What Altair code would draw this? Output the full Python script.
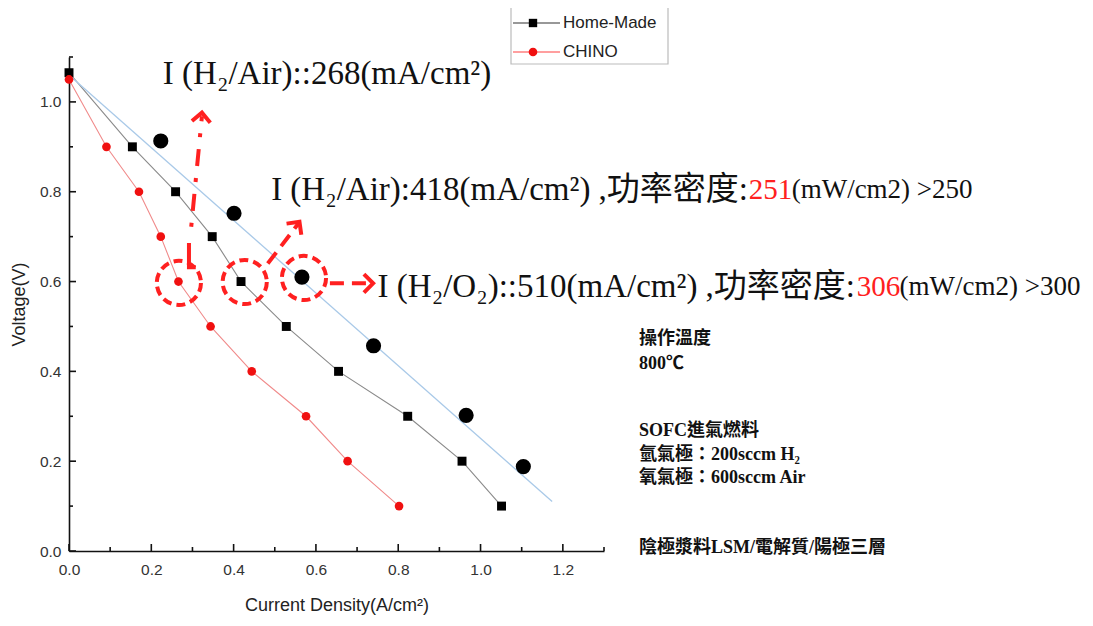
import altair as alt
import pandas as pd

# ---------------- data ----------------
hm_x = [0.0, 0.154, 0.259, 0.348, 0.418, 0.528, 0.655, 0.823, 0.955, 1.051]
hm_y = [1.065, 0.90, 0.80, 0.70, 0.60, 0.50, 0.40, 0.30, 0.20, 0.10]
ch_x = [0.0, 0.091, 0.170, 0.223, 0.266, 0.344, 0.444, 0.576, 0.677, 0.802]
ch_y = [1.05, 0.90, 0.80, 0.70, 0.60, 0.50, 0.40, 0.30, 0.20, 0.10]
o2_x = [0.223, 0.401, 0.566, 0.740, 0.965, 1.104]
o2_y = [0.913, 0.752, 0.610, 0.457, 0.302, 0.188]
fit_x = [0.0, 1.174]
fit_y = [1.06, 0.11]

circ_x = [0.267, 0.427, 0.571]
circ_y = [0.597, 0.599, 0.608]

x_major = [0.0, 0.2, 0.4, 0.6, 0.8, 1.0, 1.2]
x_minor = [0.1, 0.3, 0.5, 0.7, 0.9, 1.1, 1.3]
y_major = [0.0, 0.2, 0.4, 0.6, 0.8, 1.0]
y_minor = [0.1, 0.3, 0.5, 0.7, 0.9, 1.1]

W, H = 535, 494
XD, YD = [0, 1.3], [0, 1.1]
RED = "#ff2020"
SANS = "Liberation Sans"
SERIF = "Liberation Serif, Noto Sans CJK TC"
BSERIF = "Liberation Serif, Noto Sans CJK TC"

xs = alt.Scale(domain=XD, nice=False, zero=False)
ys = alt.Scale(domain=YD, nice=False, zero=False)

hm = pd.DataFrame({"x": hm_x, "y": hm_y})
ch = pd.DataFrame({"x": ch_x, "y": ch_y})
o2 = pd.DataFrame({"x": o2_x, "y": o2_y})
fit = pd.DataFrame({"x": fit_x, "y": fit_y})
circ = pd.DataFrame({"x": circ_x, "y": circ_y})

main_x = alt.Axis(orient="bottom", values=x_major, format=".1f", tickSize=0, domainColor="#111",
                  domainWidth=1.6, labelFont=SANS, labelFontSize=15.5, labelColor="#333",
                  labelPadding=11, labelFlush=False, labelOverlap=False, grid=False,
                  title="Current Density(A/cm²)",
                  titleFont=SANS, titleFontSize=18, titleFontWeight="normal", titleColor="#222",
                  titlePadding=19)
main_y = alt.Axis(orient="left", values=y_major, format=".1f", tickSize=0, domainColor="#111",
                  domainWidth=1.6, labelFont=SANS, labelFontSize=15.5, labelColor="#333",
                  labelPadding=8, labelFlush=False, labelOverlap=False, grid=False, title="Voltage(V)",
                  titleFont=SANS, titleFontSize=18, titleFontWeight="normal", titleColor="#222",
                  titlePadding=11)

X = alt.X("x:Q", scale=xs, axis=main_x)
Y = alt.Y("y:Q", scale=ys, axis=main_y)

# inward ticks
TK = dict(color="#111", strokeWidth=1.6)
tx_maj = alt.Chart(pd.DataFrame({"x": x_major})).mark_rule(**TK).encode(x=X, y=alt.value(H), y2=alt.value(H - 7))
tx_min = alt.Chart(pd.DataFrame({"x": x_minor})).mark_rule(**TK).encode(x=X, y=alt.value(H), y2=alt.value(H - 4))
ty_maj = alt.Chart(pd.DataFrame({"y": y_major})).mark_rule(**TK).encode(y=Y, x=alt.value(0), x2=alt.value(7))
ty_min = alt.Chart(pd.DataFrame({"y": y_minor})).mark_rule(**TK).encode(y=Y, x=alt.value(0), x2=alt.value(4))

l_hm = alt.Chart(hm).mark_line(color="#8a8a8a", strokeWidth=1.1).encode(x=X, y=Y)
l_ch = alt.Chart(ch).mark_line(color="#f08a8a", strokeWidth=1.1).encode(x=X, y=Y)
l_fit = alt.Chart(fit).mark_line(color="#a9c9e8", strokeWidth=1.3).encode(x=X, y=Y)
p_hm = alt.Chart(hm).mark_point(shape="square", filled=True, color="#000", size=80, opacity=1).encode(x=X, y=Y)
p_ch = alt.Chart(ch).mark_point(shape="circle", filled=True, color="#f01010", size=75, opacity=1).encode(x=X, y=Y)
p_o2 = alt.Chart(o2).mark_point(shape="circle", filled=True, color="#000", size=230, opacity=1).encode(x=X, y=Y)

p_circ = alt.Chart(circ).mark_point(shape="circle", filled=False, color=RED, size=1950,
                                     strokeWidth=4, strokeDash=[9, 5], opacity=1).encode(x=X, y=Y)

# arrow paths (data coordinates of annotation strokes)
seg = pd.DataFrame({"x": [0.2915, 0.2915, 0.308], "y": [0.686, 0.632, 0.632]})
a1 = pd.DataFrame({"x": [0.297, 0.323], "y": [0.722, 0.968]})
a2 = pd.DataFrame({"x": [0.483, 0.558], "y": [0.640, 0.730]})
a3 = pd.DataFrame({"x": [0.634, 0.735], "y": [0.596, 0.596]})
heads = pd.DataFrame({"x": [0.323, 0.560, 0.739], "y": [0.976, 0.733, 0.596], "a": [5, 37, 90]})

l_L = alt.Chart(seg).mark_line(color=RED, strokeWidth=4).encode(x=X, y=Y, order=alt.value(0))
l_a1 = alt.Chart(a1).mark_line(color=RED, strokeWidth=4, strokeDash=[4, 12, 17, 12]).encode(x=X, y=Y)
l_a2 = alt.Chart(a2).mark_line(color=RED, strokeWidth=4, strokeDash=[14, 8]).encode(x=X, y=Y)
l_a3 = alt.Chart(a3).mark_line(color=RED, strokeWidth=4, strokeDash=[14, 8]).encode(x=X, y=Y)
p_heads = alt.Chart(heads).mark_point(shape="M-1,1L0,0L1,1", filled=False, color=RED, size=340,
                                      strokeWidth=4, opacity=1).encode(
    x=X, y=Y, angle=alt.Angle("a:Q", scale=None))

# annotation text
t_black_left = pd.DataFrame({"x": [0.228], "y": [1.062], "t": ["I (H₂/Air)::268(mA/cm²)"]})
t_black_right = pd.DataFrame({
    "x": [1.650, 1.910], "y": [0.804, 0.587],
    "t": ["I (H₂/Air):418(mA/cm²) ,功率密度: ", "I (H₂/O₂)::510(mA/cm²) ,功率密度: "],
})
t_red = pd.DataFrame({"x": [1.652, 1.914], "y": [0.804, 0.587], "t": ["251", "306"]})
t_tail = pd.DataFrame({"x": [1.756, 2.018], "y": [0.804, 0.587], "t": ["(mW/cm2) >250", "(mW/cm2) >300"]})

def txt(df, color, align, font=SERIF, size=27, weight="normal"):
    return alt.Chart(df).mark_text(align=align, baseline="middle", font=font, fontSize=size,
                                   color=color, fontWeight=weight).encode(x=X, y=Y, text="t:N")

tx1 = txt(t_black_left, "#111", "left", size=33)
tx2 = txt(t_black_right, "#111", "right", size=33)
tx3 = txt(t_red, RED, "left", size=29)
tx4 = txt(t_tail, "#111", "left", size=27)

info_lines = ["操作溫度", "800℃", "SOFC進氣燃料", "氫氣極：200sccm H₂", "氧氣極：600sccm Air",
              "陰極漿料LSM/電解質/陽極三層"]
info_y = [0.472, 0.416, 0.267, 0.214, 0.163, 0.007]
info = pd.DataFrame({"x": [1.385] * len(info_lines), "y": info_y, "t": info_lines})
tx5 = txt(info, "#111", "left", font=BSERIF, size=18, weight="bold")

# legend (drawn as annotation in pixel space)
one = pd.DataFrame({"k": [0]})
leg_box = alt.Chart(one).mark_rect(fill="white", stroke="#bbbbbb", strokeWidth=1.2).encode(
    x=alt.value(442), x2=alt.value(599), y=alt.value(-51), y2=alt.value(7))
leg_l1 = alt.Chart(one).mark_rule(color="#333", strokeWidth=1.2).encode(
    x=alt.value(444), x2=alt.value(491), y=alt.value(-34))
leg_l2 = alt.Chart(one).mark_rule(color="#ff4040", strokeWidth=1.2).encode(
    x=alt.value(444), x2=alt.value(491), y=alt.value(-5))
leg_p1 = alt.Chart(one).mark_point(shape="square", filled=True, color="#000", size=70, opacity=1).encode(
    x=alt.value(464), y=alt.value(-34))
leg_p2 = alt.Chart(one).mark_point(shape="circle", filled=True, color="#f01010", size=75, opacity=1).encode(
    x=alt.value(464), y=alt.value(-5))
leg_t1 = alt.Chart(one).mark_text(align="left", baseline="middle", font=SANS, fontSize=17, color="#222").encode(
    x=alt.value(494), y=alt.value(-34), text=alt.value("Home-Made"))
leg_t2 = alt.Chart(one).mark_text(align="left", baseline="middle", font=SANS, fontSize=17, color="#222").encode(
    x=alt.value(494), y=alt.value(-5), text=alt.value("CHINO"))

chart = alt.layer(
    l_hm, l_ch, l_fit, tx_maj, tx_min, ty_maj, ty_min, p_hm, p_ch, p_o2,
    l_L, l_a1, l_a2, l_a3, p_heads, p_circ,
    tx1, tx2, tx3, tx4, tx5,
    leg_box, leg_l1, leg_l2, leg_p1, leg_p2, leg_t1, leg_t2,
).properties(
    width=W, height=H,
    background="white",
    autosize=alt.AutoSizeParams(type="none"),
    padding={"left": 61, "top": 49, "right": 481, "bottom": 67},
).configure_view(stroke=None, strokeWidth=0)

chart.save("out.html", embed_options={"renderer": "svg", "actions": False})
